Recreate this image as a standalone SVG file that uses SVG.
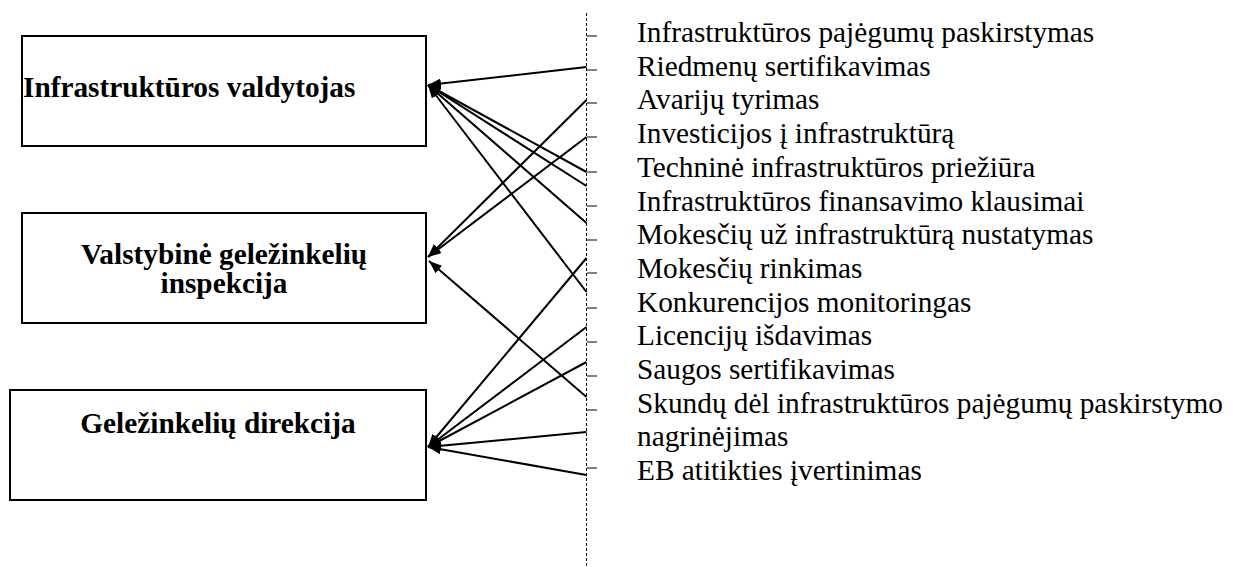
<svg xmlns="http://www.w3.org/2000/svg" width="1233" height="567" viewBox="0 0 1233 567">
<style>
.box{fill:#fff;stroke:#000;stroke-width:2}
.bt{font-family:"Liberation Serif","Times New Roman",serif;font-size:29.3px;font-weight:bold;fill:#000}
.it{font-family:"Liberation Serif","Times New Roman",serif;font-size:29.3px;fill:#000}
.ln{stroke:#000;stroke-width:2;fill:none;marker-end:url(#ah)}
.tick{stroke:#000;stroke-width:1}
</style>
<defs>
<marker id="ah" markerUnits="userSpaceOnUse" markerWidth="14" markerHeight="10" refX="13" refY="5" orient="auto">
<path d="M0,0 L13,5 L0,10 z" fill="#000"/>
</marker>
</defs>
<rect width="1233" height="567" fill="#fff"/>
<g id="node-valdytojas">
<rect class="box" x="22" y="36" width="404" height="110"/>
<text class="bt" x="23" y="97">Infrastruktūros valdytojas</text>
</g>
<g id="node-inspekcija">
<rect class="box" x="22" y="213" width="404" height="110"/>
<text class="bt" x="224" y="264" text-anchor="middle">Valstybinė geležinkelių</text>
<text class="bt" x="224" y="293" text-anchor="middle">inspekcija</text>
</g>
<g id="node-direkcija">
<rect class="box" x="10" y="390" width="416" height="110"/>
<text class="bt" x="218" y="433" text-anchor="middle">Geležinkelių direkcija</text>
</g>
<g id="axis">
<line x1="586.5" y1="13" x2="586.5" y2="567" stroke="#000" stroke-width="1" stroke-dasharray="3,2"/>
<line class="tick" x1="587" y1="36" x2="597" y2="36"/>
<line class="tick" x1="587" y1="70" x2="597" y2="70"/>
<line class="tick" x1="587" y1="103" x2="597" y2="103"/>
<line class="tick" x1="587" y1="137" x2="597" y2="137"/>
<line class="tick" x1="587" y1="172" x2="597" y2="172"/>
<line class="tick" x1="587" y1="206" x2="597" y2="206"/>
<line class="tick" x1="587" y1="240" x2="597" y2="240"/>
<line class="tick" x1="587" y1="273" x2="597" y2="273"/>
<line class="tick" x1="587" y1="308" x2="597" y2="308"/>
<line class="tick" x1="587" y1="342" x2="597" y2="342"/>
<line class="tick" x1="587" y1="376" x2="597" y2="376"/>
<line class="tick" x1="587" y1="410" x2="597" y2="410"/>
<line class="tick" x1="587" y1="468" x2="597" y2="468"/>
</g>
<g id="items">
<text class="it" x="637" y="42">Infrastruktūros pajėgumų paskirstymas</text>
<text class="it" x="637" y="75.7">Riedmenų sertifikavimas</text>
<text class="it" x="637" y="109.4">Avarijų tyrimas</text>
<text class="it" x="637" y="143.1">Investicijos į infrastruktūrą</text>
<text class="it" x="637" y="176.8">Techninė infrastruktūros priežiūra</text>
<text class="it" x="637" y="210.5">Infrastruktūros finansavimo klausimai</text>
<text class="it" x="637" y="244.2">Mokesčių už infrastruktūrą nustatymas</text>
<text class="it" x="637" y="277.9">Mokesčių rinkimas</text>
<text class="it" x="637" y="311.6">Konkurencijos monitoringas</text>
<text class="it" x="637" y="345.3">Licencijų išdavimas</text>
<text class="it" x="637" y="379">Saugos sertifikavimas</text>
<text class="it" x="637" y="412.7">Skundų dėl infrastruktūros pajėgumų paskirstymo</text>
<text class="it" x="637" y="446.4">nagrinėjimas</text>
<text class="it" x="637" y="480.1">EB atitikties įvertinimas</text>
</g>
<g id="connectors">
<line class="ln" x1="586.5" y1="67" x2="428" y2="85"/>
<line class="ln" x1="586.5" y1="172" x2="428" y2="85"/>
<line class="ln" x1="586.5" y1="186" x2="428" y2="85"/>
<line class="ln" x1="586.5" y1="223" x2="428" y2="85"/>
<line class="ln" x1="586.5" y1="292" x2="428" y2="85"/>
<line class="ln" x1="586.5" y1="100" x2="428" y2="257"/>
<line class="ln" x1="586.5" y1="137" x2="428" y2="257"/>
<line class="ln" x1="586.5" y1="397" x2="429" y2="261"/>
<line class="ln" x1="586.5" y1="258" x2="428" y2="447"/>
<line class="ln" x1="586.5" y1="327" x2="428" y2="447"/>
<line class="ln" x1="586.5" y1="362" x2="428" y2="447"/>
<line class="ln" x1="586.5" y1="432" x2="428" y2="447"/>
<line class="ln" x1="586.5" y1="475" x2="428" y2="447"/>
</g>
</svg>
